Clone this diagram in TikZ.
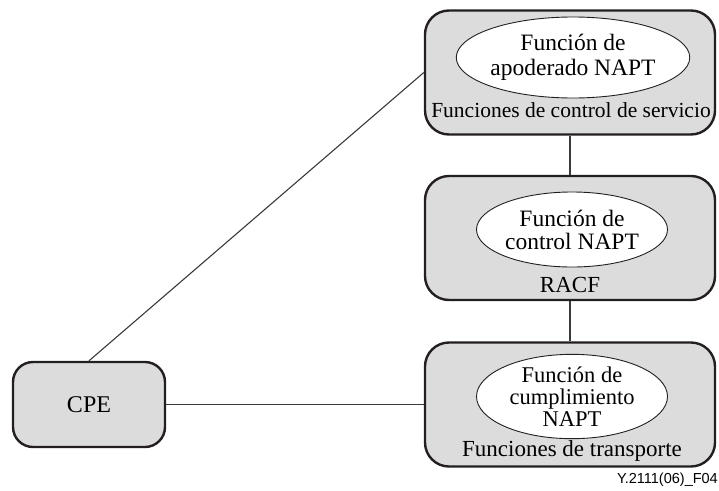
\documentclass[tikz,border=0pt]{standalone}
\usepackage{fontspec}
\setmainfont{Liberation Serif}
\newfontfamily\labelsans{Liberation Sans}
\usetikzlibrary{shapes.geometric}
\definecolor{boxgray}{HTML}{DCDCDC}
\definecolor{ink}{HTML}{231F20}
\definecolor{linkgray}{HTML}{3A3A3A}
\begin{document}
\begin{tikzpicture}[x=1pt,y=-1pt,
  funcbox/.style={draw=ink, line width=2.4pt, fill=boxgray, rounded corners=24pt,
    minimum width=290pt, minimum height=124pt, inner sep=0pt},
  cpebox/.style={draw=ink, line width=2.4pt, fill=boxgray, rounded corners=20pt,
    minimum width=152pt, minimum height=85pt, inner sep=0pt,
    font=\fontsize{24}{26}\selectfont},
  funcell/.style={draw=ink, line width=0.9pt, fill=white, ellipse,
    minimum width=191pt, inner sep=0pt, align=center},
  boxlabel/.style={inner sep=0pt, anchor=base, font=\fontsize{23}{25}\selectfont},
  link/.style={draw=linkgray, line width=1.1pt}]
  \useasboundingbox (0,0) rectangle (719,490);

  % boxes
  \node[funcbox] (scf)  at (570,72.5) {};
  \node[funcbox] (racf) at (570,238) {};
  \node[funcbox] (tf)   at (570,404.5) {};
  \node[cpebox]  (cpe)  at (89,404.5) {CPE};

  % ellipses
  \node[funcell, minimum height=81pt, font=\fontsize{23.5}{25}\selectfont]
    (proxy) at (573,57.5) {Función de\\apoderado NAPT};
  \node[funcell, minimum height=75pt, font=\fontsize{23.5}{23}\selectfont]
    (ctrl) at (572,229.5) {Función de\\control NAPT};
  \node[funcell, minimum height=78pt, font=\fontsize{22.5}{22}\selectfont]
    (enf) at (572,396.5) {Función de\\cumplimiento\\NAPT};

  % box labels
  \node[boxlabel, font=\fontsize{21.5}{24}\selectfont] (scflabel) at (571,117)
    {Funciones de control de servicio};
  \node[boxlabel] (racflabel) at (570,292) {RACF};
  \node[boxlabel] (tflabel) at (572,456) {Funciones de transporte};

  % figure id
  \node[anchor=base east, inner sep=0pt, font=\labelsans\fontsize{14.5}{16}\selectfont]
    (figid) at (718,483) {Y.2111(06)\_F04};

  % connectors
  \draw[link] (cpe.north) -- (scf.west);
  \draw[link] (cpe.east) -- (tf.west);
  \draw[link] (scf.south) -- (racf.north);
  \draw[link] (racf.south) -- (tf.north);
\end{tikzpicture}
\end{document}
